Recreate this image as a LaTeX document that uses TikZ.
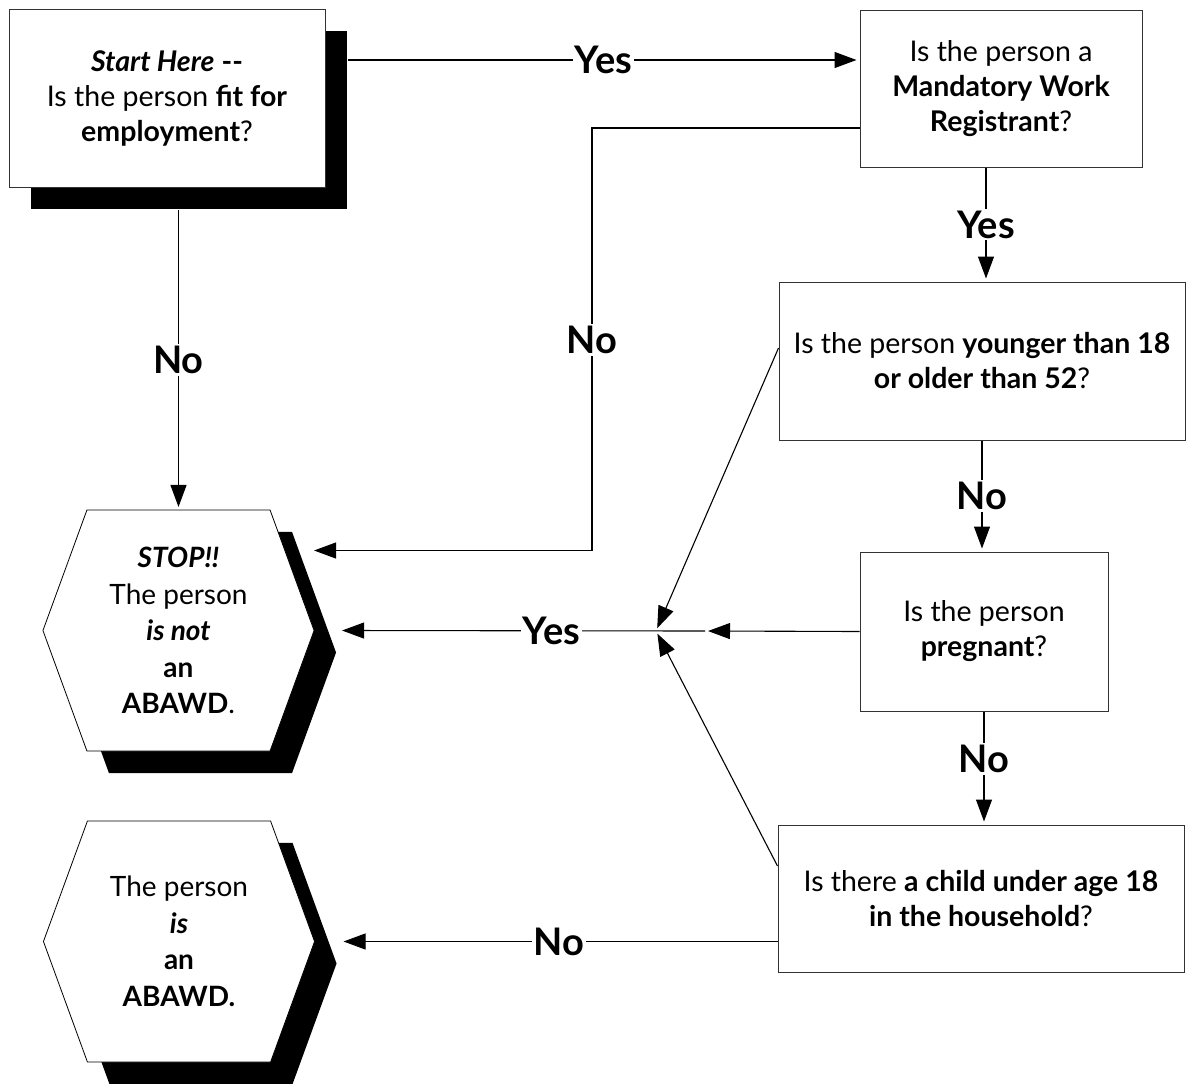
\documentclass[tikz,border=0pt]{standalone}
\usepackage{fontspec}
\setmainfont{Lato}
\usetikzlibrary{arrows.meta,shadows,backgrounds,positioning}
\tikzset{every shadow/.style={}}

\begin{document}
\begin{tikzpicture}[x=1pt, y=-1pt, line width=1.1pt,
    qbox/.style={draw=black!80, line width=1pt, fill=white, rectangle, align=center, inner sep=0pt, font=\fontsize{28.5}{35}\selectfont},
    hexbox/.style={rectangle, align=center, inner sep=0pt, minimum width=182pt, minimum height=240pt, font=\fontsize{28}{36.5}\selectfont},
    lbl/.style={fill=white, inner sep=2pt, font=\fontsize{38}{40}\selectfont\bfseries},
    arr/.style={-{Triangle[length=22pt,width=16pt]}, shorten >=3pt},
    blackshadow/.style={drop shadow={shadow xshift=22pt, shadow yshift=-22pt, fill=black, opacity=1}}]
    \useasboundingbox (0,0) rectangle (1186,1084);

    % Question boxes
    \node[qbox, blackshadow, minimum width=316pt, minimum height=178pt] (start) at (167,98) {{\bfseries\itshape Start Here} \textbf{-{}-}\\Is the person \textbf{fit for}\\\textbf{employment}?};
    \node[qbox, minimum width=282pt, minimum height=157pt] (mwr) at (1001,88.5) {Is the person a\\\textbf{Mandatory Work}\\\textbf{Registrant}?};
    \node[qbox, minimum width=406pt, minimum height=158pt] (age) at (982,361) {Is the person \textbf{younger than 18}\\\textbf{or older than 52}?};
    \node[qbox, minimum width=248pt, minimum height=159pt] (preg) at (984,631.5) {Is the person\\\textbf{pregnant}?};
    \node[qbox, minimum width=406pt, minimum height=147pt] (child) at (981,898.5) {Is there \textbf{a child under age 18}\\\textbf{in the household}?};

    % Outcomes
    \node[hexbox] (stop) at (178.5,630.5) {{\bfseries\itshape STOP!!}\\The person\\{\bfseries\itshape is not}\\\textbf{an}\\\textbf{ABAWD}.};
    \node[hexbox] (abawd) at (179,941.5) {The person\\{\bfseries\itshape is}\\\textbf{an}\\\textbf{ABAWD.}};

    \begin{scope}[on background layer]
        \foreach \n in {stop,abawd} {
            \fill[black, transform canvas={xshift=22pt,yshift=-22pt}] (\n.north west) -- (\n.north east) -- ([xshift=44pt]\n.east) -- (\n.south east) -- (\n.south west) -- ([xshift=-44pt]\n.west) -- cycle;
            \draw[fill=white, line width=0.8pt] (\n.north west) -- (\n.north east) -- ([xshift=44pt]\n.east) -- (\n.south east) -- (\n.south west) -- ([xshift=-44pt]\n.west) -- cycle;
        }
    \end{scope}

    \coordinate (join) at (656,631);
    \coordinate (nobend) at (592,340);

    % Connectors
    \draw[arr] ([shift={(22pt,38pt)}]start.east) coordinate (s1) -- node[lbl]{Yes} (s1 -| mwr.west);
    \draw[arr] ([yshift=-22pt]start.south -| stop.north) -- node[lbl]{No} (stop.north);
    \draw[arr] ([yshift=-39.5pt]mwr.west) -| (nobend) node[lbl]{No} |- ([shift={(41pt,80pt)}]stop.east);
    \draw[arr] ([xshift=-15pt]mwr.south) -- node[lbl]{Yes} ([xshift=4pt]age.north);
    \draw[arr] (age.south) -- node[lbl]{No} (age.south |- preg.north);
    \draw[arr] (preg.south) -- node[lbl, pos=0.42]{No} (preg.south |- child.north);
    \draw[arr] (preg.west) -- ([xshift=49pt]join);
    \draw[arr] ([xshift=49pt]join) -- node[lbl, pos=0.42]{Yes} ([xshift=69pt]stop.east);
    \draw[arr] ([yshift=13pt]age.west) -- (join);
    \draw[arr] ([yshift=32.5pt]child.west) -- (join);
    \draw[arr] (child.west |- abawd.east) -- node[lbl]{No} ([xshift=70pt]abawd.east);
\end{tikzpicture}
\end{document}
